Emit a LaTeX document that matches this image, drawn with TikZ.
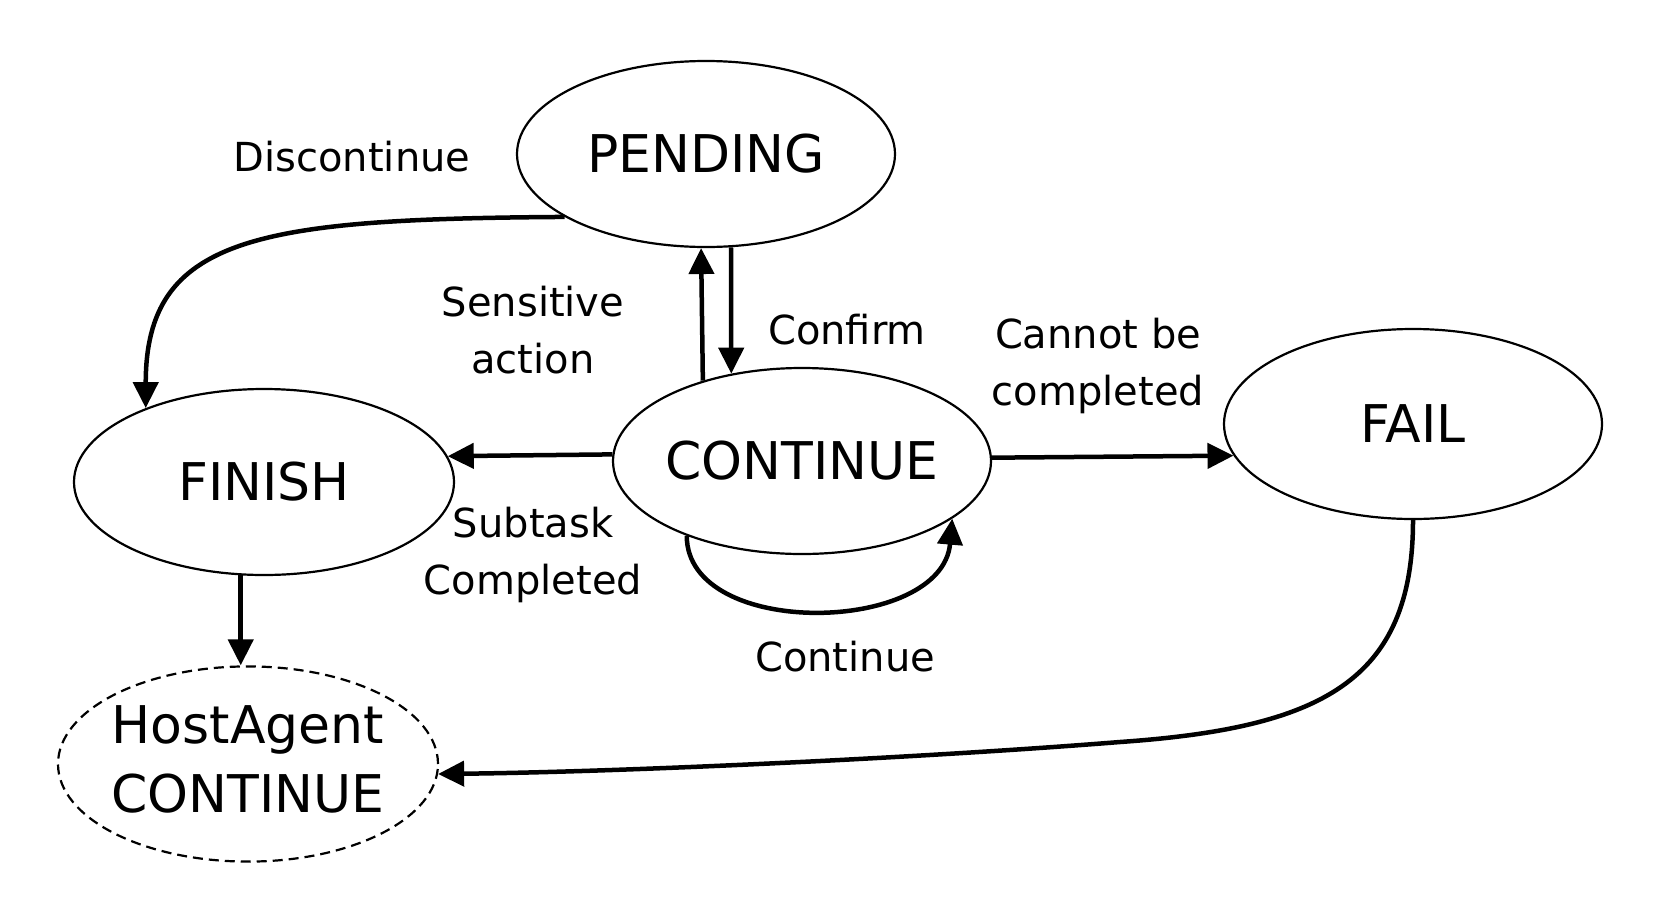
\documentclass[tikz,border=0pt]{standalone}
\usepackage{fontspec}
\setmainfont{DejaVu Sans}
\usetikzlibrary{shapes.geometric,arrows.meta}
\begin{document}
\begin{tikzpicture}[x=1pt,y=-1pt,
  state/.style={ellipse,draw,line width=2.2pt,minimum width=378pt,minimum height=186pt,inner sep=0pt,font=\fontsize{52}{69}\selectfont},
  lbl/.style={font=\fontsize{40}{57}\selectfont,align=center,inner sep=0pt},
  conn/.style={line width=4.5pt,-{Triangle[length=26pt,width=25pt]}}]
\useasboundingbox (0,0) rectangle (1661,918);
\node[state] (pend) at (706,154) {\makebox[0pt]{PENDING}};
\node[state,minimum width=380pt] (fin) at (264,482) {\makebox[0pt]{FINISH}};
\node[state] (cont) at (802,461) {\makebox[0pt]{CONTINUE}};
\node[state,minimum height=190pt] (fail) at (1413,424) {\makebox[0pt]{FAIL}};
\node[state,dash pattern=on 10pt off 6pt,minimum width=380pt,minimum height=188pt] (host) at (248,764)
  {\makebox[0pt]{\begin{tabular}{@{}c@{}}HostAgent\\CONTINUE\end{tabular}}};
\node[lbl] (ldis) at (352,157) {Discontinue};
\node[lbl] (lsens) at (533,330) {Sensitive\\action};
\node[lbl] (lconf) at (847,330) {Confirm};
\node[lbl] (lcan) at (1098,366) {Cannot be\\completed};
\node[lbl] (lsub) at (533,555) {Subtask\\Completed};
\node[lbl] (lcont) at (845,657) {Continue};
\draw[conn] (pend.204.4) .. controls +(-307,2) and +(0,-172) .. (fin.148.8);
\draw[conn] (cont.141.7) -- (pend.267.5);
\draw[conn] (pend.285.2) -- (cont.129.5);
\draw[conn] (cont.178.2) -- (fin.8.4);
\draw[conn] (cont.1.2) -- (fail.190.6);
\draw[conn] (cont.213.9) .. controls +(0,104) and +(-10,116) .. (cont.339.6);
\draw[conn] (fin.256.6) -- (fin.256.6 |- host.north);
\draw[conn] (fail.south) .. controls +(0,162) and (1320,728) .. (1120,742)
  .. controls (920,758) and (620,772) .. (host.357.6);
\end{tikzpicture}
\end{document}
